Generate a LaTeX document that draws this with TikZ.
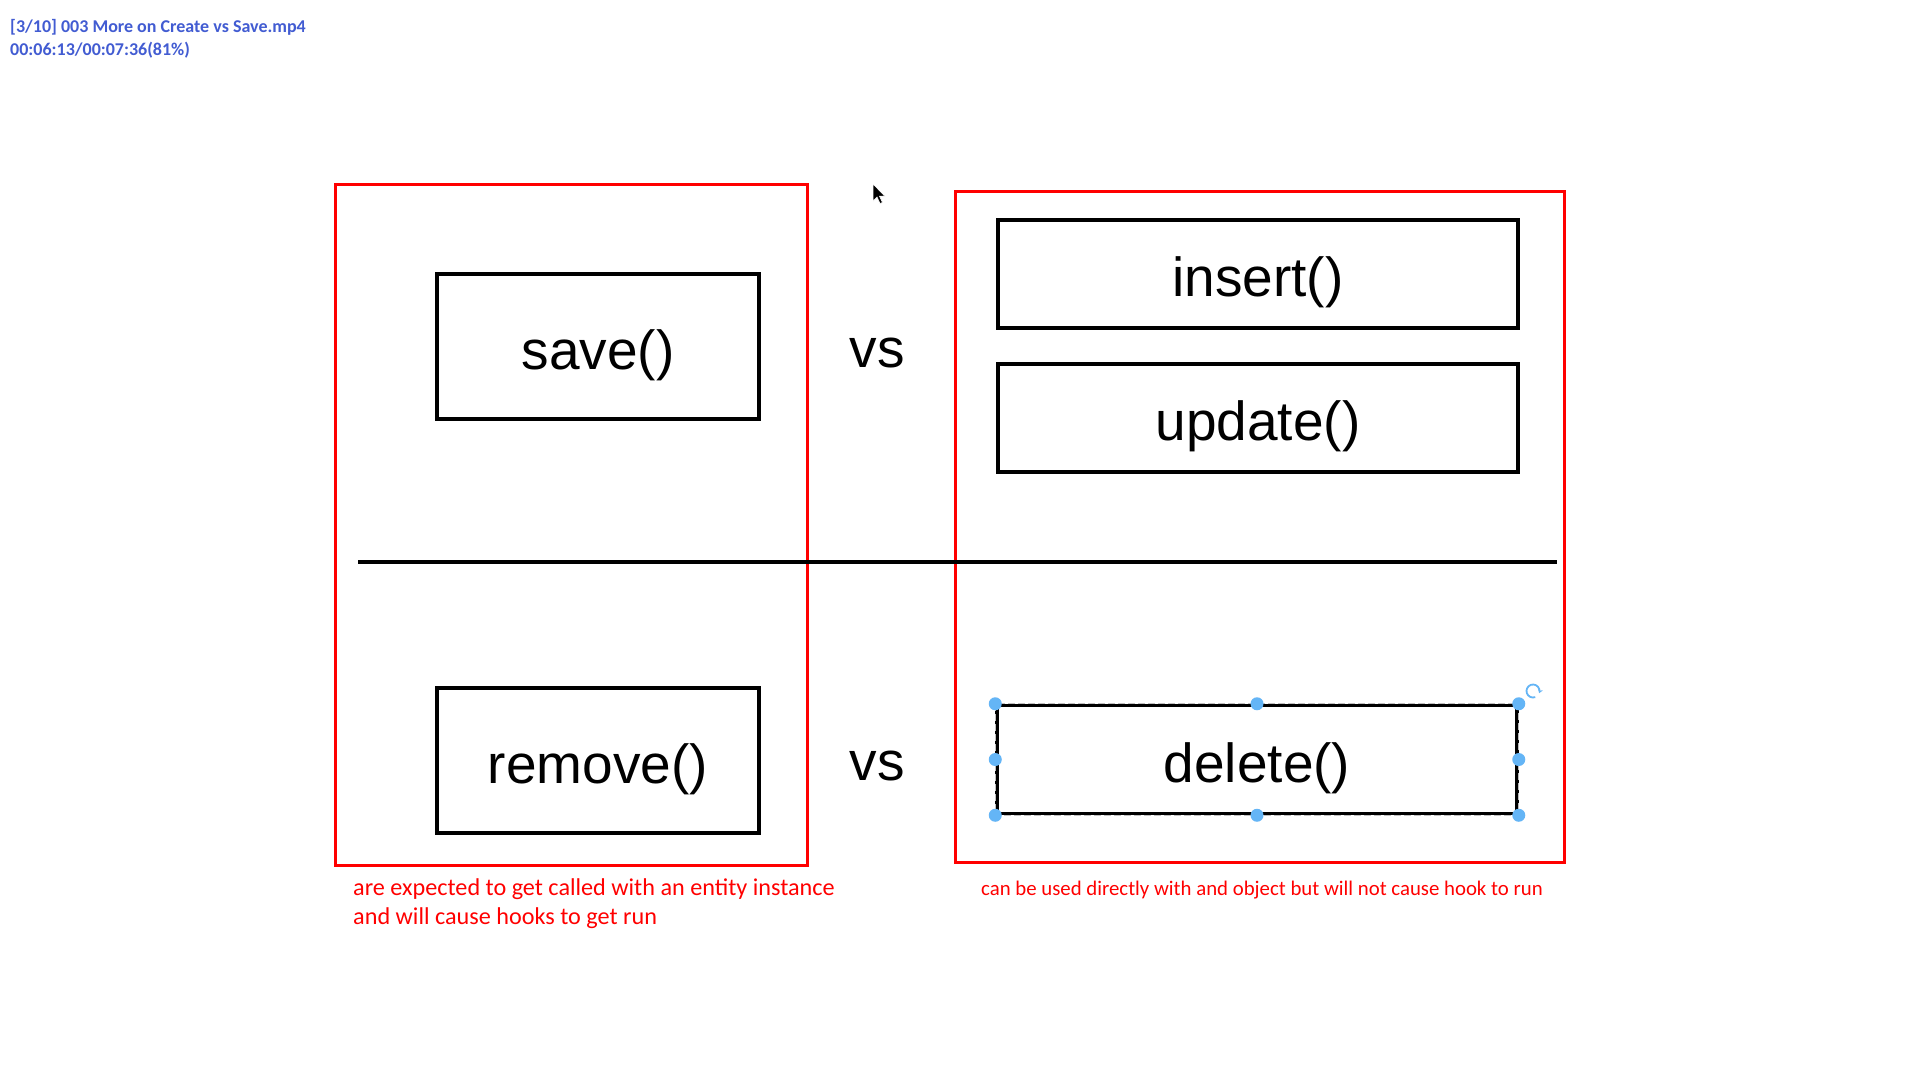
\documentclass[tikz,border=0pt]{standalone}
\usepackage{fontspec}
\usepackage{xcolor}
\usepackage{tikz}
\usetikzlibrary{arrows.meta,positioning}
\newfontfamily\boxfont{Liberation Sans}
\newfontfamily\notefont{Carlito}
\definecolor{markred}{RGB}{255,0,0}
\definecolor{handleblue}{RGB}{100,181,246}
\definecolor{osdblue}{RGB}{66,92,210}

\begin{document}
\begin{tikzpicture}[
  x=1pt, y=-1pt,
  redbox/.style={draw=markred, line width=3pt, inner sep=0pt},
  fn/.style={draw, line width=3.5pt, inner sep=0pt, text height=45pt,
             text depth=0pt, font=\boxfont\fontsize{55}{60}\selectfont},
  fnL/.style={fn, minimum width=322pt, minimum height=145pt},
  fnR/.style={fn, minimum width=520pt, minimum height=108pt},
  vslbl/.style={inner sep=0pt, font=\boxfont\fontsize{55}{60}\selectfont},
  note/.style={inner sep=0pt, text=markred, align=left},
  hdl/.style={fill=handleblue}
]
\useasboundingbox (0,0) rectangle (1920,1080);
\fill[white] (0,0) rectangle (1920,1080);

% ---- Player overlay ----------------------------------------------------
\node[inner sep=0pt, anchor=base west, align=left, text=osdblue,
      font=\notefont\bfseries\fontsize{18}{23}\selectfont] (osd) at (10,55)
  {[3/10] 003 More on Create vs Save.mp4\\00:06:13/00:07:36(81\%)};

% ---- Groups ------------------------------------------------------------
\node[redbox, minimum width=472pt, minimum height=681pt] (grpL) at (571,524.5) {};
\node[redbox, minimum width=609pt, minimum height=671pt] (grpR) at (1259.5,526.5) {};

% ---- Methods -----------------------------------------------------------
\node[fnL] (save)   at (598,346.5) {save()};
\node[fnL] (remove) at (598,760.5) {remove()};
\node[fnR] (insert) at (1258,274)  {insert()};
\node[fnR, below=32.5pt of insert] (update) {update()};
\node[fnR] (delete) at (1257,759.5) {delete()};
\draw[black!25, line width=1pt, dash pattern=on 7pt off 3pt]
  (delete.north west) rectangle (delete.south east);

\node[vslbl] (vsTop) at (877,353) {vs};
\node[vslbl] (vsBot) at (877,766) {vs};

% ---- Divider -----------------------------------------------------------
\coordinate (divL) at (358,562);
\coordinate (divR) at (1557,562);
\draw[line width=3.3pt] (divL) -- (divR);

% ---- Notes -------------------------------------------------------------
\node[note, anchor=base west, font=\notefont\fontsize{24.2}{29}\selectfont]
  (noteL) at (353,924)
  {are expected to get called with an entity instance\\and will cause hooks to get run};
\node[note, anchor=base, font=\notefont\fontsize{20.8}{24}\selectfont]
  (noteR) at (1262,895)
  {can be used directly with and object but will not cause hook to run};

% ---- Selection handles -------------------------------------------------
\foreach \a in {north west,north,north east,east,south east,south,south west,west}
  \fill[hdl] (delete.\a) circle (6.5);
\coordinate (rot) at (1533,691);
\draw[handleblue, line width=1.8pt, -{Stealth[length=4pt,width=5pt]}]
  ([shift={(70:6.5)}]rot) arc[start angle=70, end angle=380, radius=6.5];

% ---- Cursor ------------------------------------------------------------
\coordinate (cur) at (873,184);
\fill[black, draw=white, line width=0.6pt, shift={(cur)}]
  (0,0) -- (0,17) -- (4,13) -- (7,19.5) -- (9.5,18.5) -- (6.5,12.2)
  -- (12,12.2) -- cycle;
\end{tikzpicture}
\end{document}
